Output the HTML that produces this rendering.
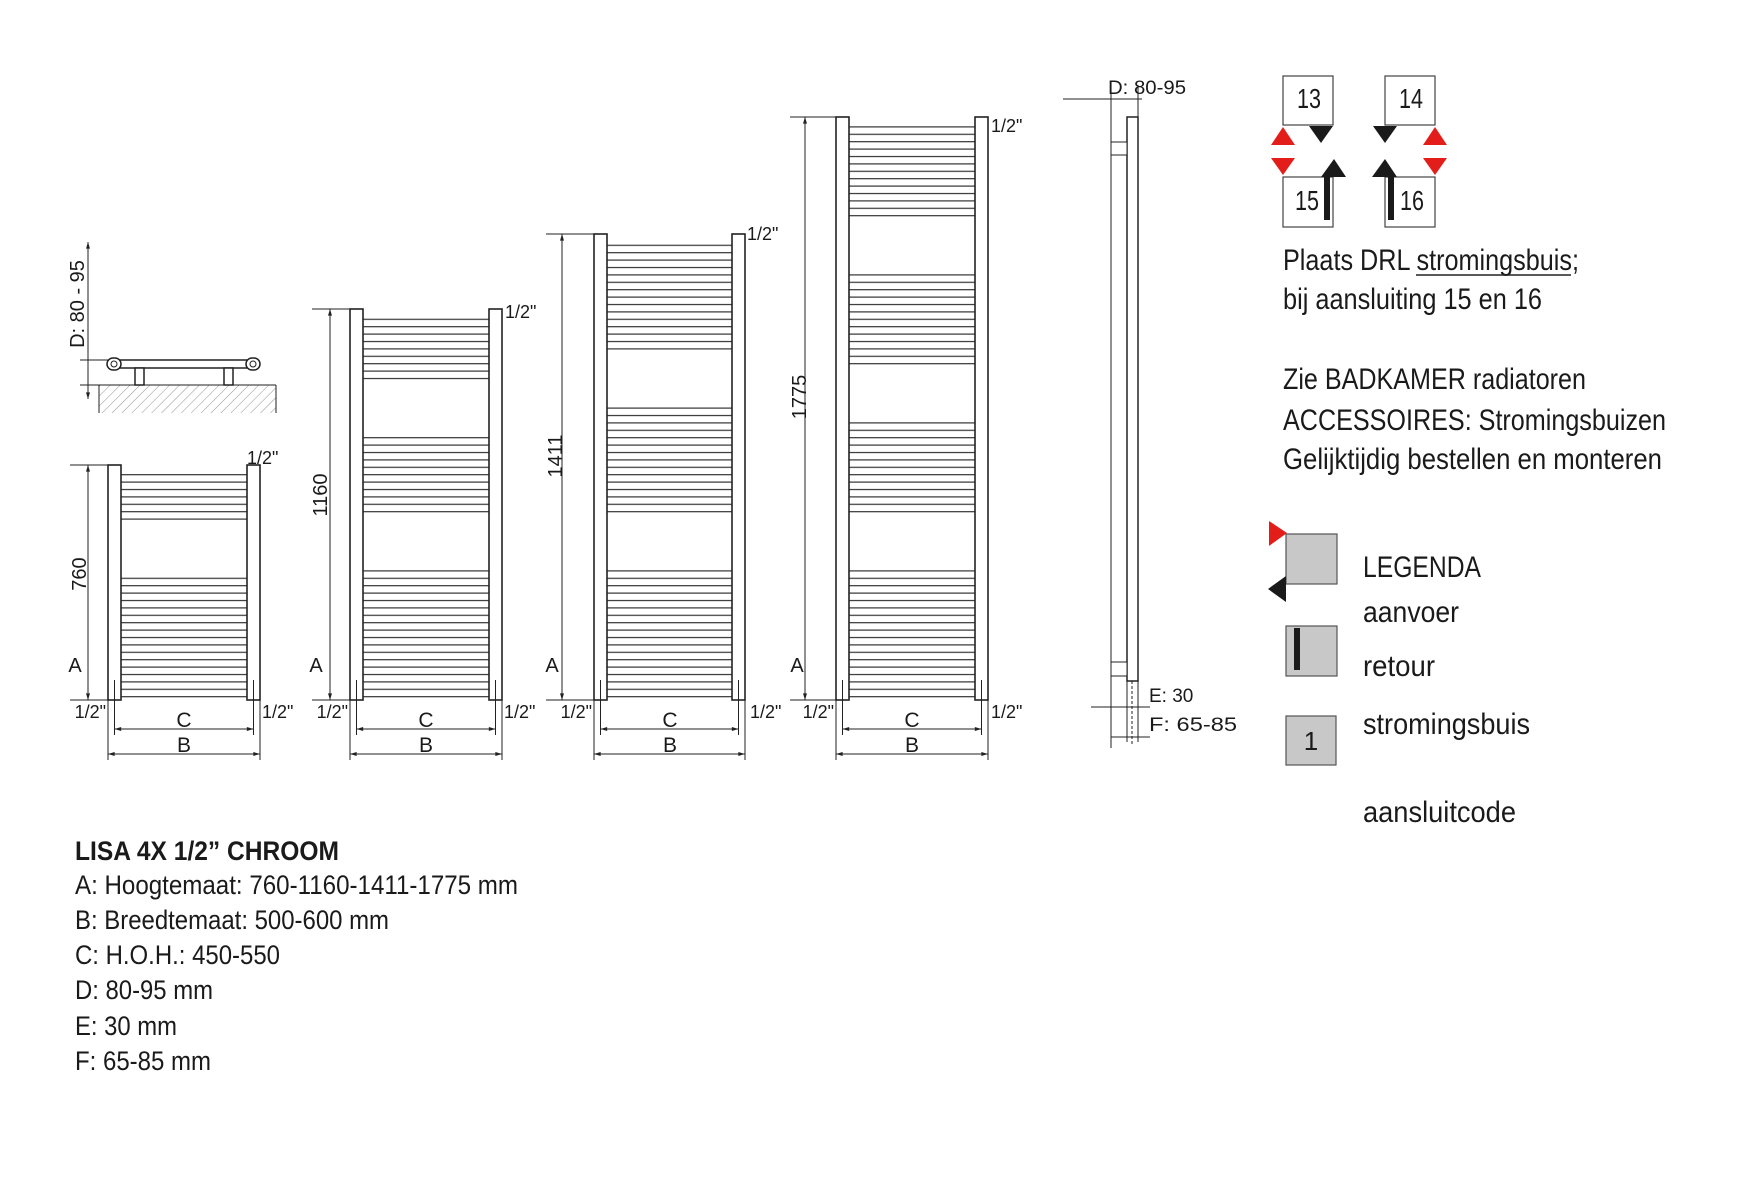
<!DOCTYPE html>
<html><head><meta charset="utf-8"><style>
html,body{margin:0;padding:0;background:#fff;}
svg{display:block;}
text{font-family:"Liberation Sans",Arial,sans-serif;fill:#1a1a1a;}
</style></head><body>
<svg width="1761" height="1191" viewBox="0 0 1761 1191" xmlns="http://www.w3.org/2000/svg">
<defs>
<pattern id="bars" x="0" y="0.5" width="20" height="7.4" patternUnits="userSpaceOnUse">
<rect x="0" y="0" width="20" height="1.2" fill="#333"/>
</pattern>
<pattern id="hatch" width="7" height="7" patternUnits="userSpaceOnUse" patternTransform="rotate(45)">
<line x1="0" y1="0" x2="0" y2="7" stroke="#777" stroke-width="0.8"/>
</pattern>
<marker id="ar" viewBox="0 0 10 6" refX="10" refY="3" markerWidth="8" markerHeight="4" orient="auto-start-reverse" markerUnits="userSpaceOnUse">
<path d="M0,0 L10,3 L0,6 z" fill="#222"/>
</marker>
</defs>

<g stroke="#222" fill="none" stroke-width="1">
<line x1="88" y1="242" x2="88" y2="399" marker-start="url(#ar)" marker-end="url(#ar)"/>
<line x1="80" y1="360" x2="112" y2="360"/>
<line x1="80" y1="385" x2="100" y2="385"/>
<rect x="99" y="385" width="177" height="28" fill="url(#hatch)" stroke="none"/>
<line x1="99" y1="385" x2="276" y2="385"/>
<line x1="99" y1="385" x2="99" y2="413"/>
<line x1="276" y1="385" x2="276" y2="413"/>
<rect x="112" y="360" width="142" height="8" fill="#fff" stroke-width="1.5"/>
<rect x="107" y="358" width="14" height="12" rx="6" fill="#fff" stroke-width="1.5"/>
<circle cx="114" cy="364" r="3"/>
<rect x="246" y="358" width="14" height="12" rx="6" fill="#fff" stroke-width="1.5"/>
<circle cx="253" cy="364" r="3"/>
<rect x="135" y="368" width="9" height="17" fill="#fff" stroke-width="1.5"/>
<rect x="224" y="368" width="9" height="17" fill="#fff" stroke-width="1.5"/>
</g>
<text transform="translate(84,304) rotate(-90)" font-size="20" text-anchor="middle">D: 80 - 95</text>

<!-- Radiator 1 -->
<g stroke="#222" fill="none" stroke-width="1">
<rect x="121" y="469" width="126" height="52" fill="url(#bars)" stroke="none"/>
<rect x="121" y="572" width="126" height="126" fill="url(#bars)" stroke="none"/>
<rect x="108" y="465" width="13" height="235" fill="#fff" stroke-width="1.6"/>
<rect x="247" y="465" width="13" height="235" fill="#fff" stroke-width="1.6"/>
<line x1="88" y1="465" x2="88" y2="700" marker-start="url(#ar)" marker-end="url(#ar)"/>
<line x1="70" y1="465" x2="108" y2="465"/><line x1="70" y1="700" x2="108" y2="700"/>
<line x1="114.5" y1="680" x2="114.5" y2="735"/><line x1="253.5" y1="680" x2="253.5" y2="735"/>
<line x1="114.5" y1="729" x2="253.5" y2="729" marker-start="url(#ar)" marker-end="url(#ar)"/>
<line x1="108" y1="700" x2="108" y2="760"/><line x1="260" y1="700" x2="260" y2="760"/>
<line x1="108" y1="754" x2="260" y2="754" marker-start="url(#ar)" marker-end="url(#ar)"/>
</g>
<text transform="translate(86,574) rotate(-90)" font-size="20" text-anchor="middle">760</text>
<text x="75" y="672" font-size="20" text-anchor="middle">A</text>
<text x="247" y="464" font-size="18">1/2"</text>
<text x="106" y="718" font-size="18" text-anchor="end">1/2"</text>
<text x="262" y="718" font-size="18">1/2"</text>
<text x="184" y="727" font-size="21" text-anchor="middle">C</text>
<text x="184" y="752" font-size="21" text-anchor="middle">B</text>

<!-- Radiator 2 -->
<g stroke="#222" fill="none" stroke-width="1">
<rect x="363" y="315" width="126" height="68" fill="url(#bars)" stroke="none"/>
<rect x="363" y="434" width="126" height="82" fill="url(#bars)" stroke="none"/>
<rect x="363" y="568" width="126" height="130" fill="url(#bars)" stroke="none"/>
<rect x="350" y="309" width="13" height="391" fill="#fff" stroke-width="1.6"/>
<rect x="489" y="309" width="13" height="391" fill="#fff" stroke-width="1.6"/>
<line x1="330" y1="309" x2="330" y2="700" marker-start="url(#ar)" marker-end="url(#ar)"/>
<line x1="312" y1="309" x2="350" y2="309"/><line x1="312" y1="700" x2="350" y2="700"/>
<line x1="356.5" y1="680" x2="356.5" y2="735"/><line x1="495.5" y1="680" x2="495.5" y2="735"/>
<line x1="356.5" y1="729" x2="495.5" y2="729" marker-start="url(#ar)" marker-end="url(#ar)"/>
<line x1="350" y1="700" x2="350" y2="760"/><line x1="502" y1="700" x2="502" y2="760"/>
<line x1="350" y1="754" x2="502" y2="754" marker-start="url(#ar)" marker-end="url(#ar)"/>
</g>
<text transform="translate(327,495) rotate(-90)" font-size="20" text-anchor="middle">1160</text>
<text x="316" y="672" font-size="20" text-anchor="middle">A</text>
<text x="505" y="318" font-size="18">1/2"</text>
<text x="348" y="718" font-size="18" text-anchor="end">1/2"</text>
<text x="504" y="718" font-size="18">1/2"</text>
<text x="426" y="727" font-size="21" text-anchor="middle">C</text>
<text x="426" y="752" font-size="21" text-anchor="middle">B</text>

<!-- Radiator 3 -->
<g stroke="#222" fill="none" stroke-width="1">
<rect x="607" y="242" width="125" height="111" fill="url(#bars)" stroke="none"/>
<rect x="607" y="404" width="125" height="112" fill="url(#bars)" stroke="none"/>
<rect x="607" y="567" width="125" height="131" fill="url(#bars)" stroke="none"/>
<rect x="594" y="234" width="13" height="466" fill="#fff" stroke-width="1.6"/>
<rect x="732" y="234" width="13" height="466" fill="#fff" stroke-width="1.6"/>
<line x1="562" y1="234" x2="562" y2="700" marker-start="url(#ar)" marker-end="url(#ar)"/>
<line x1="546" y1="234" x2="594" y2="234"/><line x1="546" y1="700" x2="594" y2="700"/>
<line x1="600.5" y1="680" x2="600.5" y2="735"/><line x1="738.5" y1="680" x2="738.5" y2="735"/>
<line x1="600.5" y1="729" x2="738.5" y2="729" marker-start="url(#ar)" marker-end="url(#ar)"/>
<line x1="594" y1="700" x2="594" y2="760"/><line x1="745" y1="700" x2="745" y2="760"/>
<line x1="594" y1="754" x2="745" y2="754" marker-start="url(#ar)" marker-end="url(#ar)"/>
</g>
<text transform="translate(562,456) rotate(-90)" font-size="20" text-anchor="middle">1411</text>
<text x="552" y="672" font-size="20" text-anchor="middle">A</text>
<text x="747" y="240" font-size="18">1/2"</text>
<text x="592" y="718" font-size="18" text-anchor="end">1/2"</text>
<text x="750" y="718" font-size="18">1/2"</text>
<text x="670" y="727" font-size="21" text-anchor="middle">C</text>
<text x="670" y="752" font-size="21" text-anchor="middle">B</text>

<!-- Radiator 4 -->
<g stroke="#222" fill="none" stroke-width="1">
<rect x="849" y="123" width="126" height="98" fill="url(#bars)" stroke="none"/>
<rect x="849" y="272" width="126" height="97" fill="url(#bars)" stroke="none"/>
<rect x="849" y="420" width="126" height="97" fill="url(#bars)" stroke="none"/>
<rect x="849" y="568" width="126" height="130" fill="url(#bars)" stroke="none"/>
<rect x="836" y="117" width="13" height="583" fill="#fff" stroke-width="1.6"/>
<rect x="975" y="117" width="13" height="583" fill="#fff" stroke-width="1.6"/>
<line x1="805" y1="117" x2="805" y2="700" marker-start="url(#ar)" marker-end="url(#ar)"/>
<line x1="790" y1="117" x2="836" y2="117"/><line x1="790" y1="700" x2="836" y2="700"/>
<line x1="842.5" y1="680" x2="842.5" y2="735"/><line x1="981.5" y1="680" x2="981.5" y2="735"/>
<line x1="842.5" y1="729" x2="981.5" y2="729" marker-start="url(#ar)" marker-end="url(#ar)"/>
<line x1="836" y1="700" x2="836" y2="760"/><line x1="988" y1="700" x2="988" y2="760"/>
<line x1="836" y1="754" x2="988" y2="754" marker-start="url(#ar)" marker-end="url(#ar)"/>
</g>
<text transform="translate(806,397) rotate(-90)" font-size="20" text-anchor="middle">1775</text>
<text x="797" y="672" font-size="20" text-anchor="middle">A</text>
<text x="991" y="132" font-size="18">1/2"</text>
<text x="834" y="718" font-size="18" text-anchor="end">1/2"</text>
<text x="991" y="718" font-size="18">1/2"</text>
<text x="912" y="727" font-size="21" text-anchor="middle">C</text>
<text x="912" y="752" font-size="21" text-anchor="middle">B</text>

<!-- Side view -->
<g stroke="#222" fill="none" stroke-width="1">
<line x1="1063" y1="99" x2="1142" y2="99"/>
<line x1="1111" y1="92" x2="1111" y2="748"/>
<line x1="1138" y1="85" x2="1138" y2="117"/>
<rect x="1127" y="117" width="11" height="564" fill="#fff" stroke-width="1.5"/>
<rect x="1111" y="142" width="16" height="13" fill="#fff"/>
<rect x="1111" y="662" width="16" height="14" fill="#fff"/>
<line x1="1091" y1="707" x2="1150" y2="707"/>
<line x1="1127" y1="681" x2="1127" y2="742"/>
<line x1="1138" y1="681" x2="1138" y2="742"/>
<line x1="1132" y1="681" x2="1132" y2="745" stroke-dasharray="3,2"/>
<line x1="1111" y1="737" x2="1150" y2="737"/>
</g>
<text x="1108" y="94" font-size="19" textLength="78" lengthAdjust="spacingAndGlyphs">D: 80-95</text>
<text x="1149" y="702" font-size="19">E: 30</text>
<text x="1149" y="731" font-size="19" textLength="88" lengthAdjust="spacingAndGlyphs">F: 65-85</text>

<!-- connection codes -->
<g stroke="#444" stroke-width="1.2" fill="#fff">
<rect x="1283" y="76" width="50" height="49"/>
<rect x="1385" y="76" width="50" height="49"/>
<rect x="1283" y="177" width="50" height="50"/>
<rect x="1385" y="177" width="50" height="50"/>
</g>
<g font-size="28" text-anchor="middle">
<text x="1309" y="108" textLength="24" lengthAdjust="spacingAndGlyphs">13</text>
<text x="1411" y="108" textLength="24" lengthAdjust="spacingAndGlyphs">14</text>
<text x="1307" y="210" textLength="24" lengthAdjust="spacingAndGlyphs">15</text>
<text x="1412" y="210" textLength="24" lengthAdjust="spacingAndGlyphs">16</text>
</g>
<g fill="#e31d1a">
<path d="M1271,145 L1283,127 L1295,145 z"/><path d="M1271,158 L1295,158 L1283,175 z"/>
<path d="M1423,145 L1435,127 L1447,145 z"/><path d="M1423,158 L1447,158 L1435,175 z"/>
</g>
<g fill="#1a1a1a">
<path d="M1309,126 L1333,126 L1321,143 z"/>
<path d="M1373,126 L1397,126 L1385,143 z"/>
<path d="M1321,177 L1334,159 L1346,177 z"/><rect x="1324" y="175" width="6" height="45"/>
<path d="M1372,177 L1385,159 L1397,177 z"/><rect x="1388" y="175" width="6" height="45"/>
</g>

<g font-size="30">
<text x="1283" y="270" textLength="296" lengthAdjust="spacingAndGlyphs">Plaats DRL stromingsbuis;</text>
<text x="1283" y="309" textLength="259" lengthAdjust="spacingAndGlyphs">bij aansluiting 15 en 16</text>
<text x="1283" y="389" textLength="303" lengthAdjust="spacingAndGlyphs">Zie BADKAMER radiatoren</text>
<text x="1283" y="430" textLength="383" lengthAdjust="spacingAndGlyphs">ACCESSOIRES: Stromingsbuizen</text>
<text x="1283" y="469" textLength="379" lengthAdjust="spacingAndGlyphs">Gelijktijdig  bestellen en monteren</text>
</g>
<line x1="1416" y1="275" x2="1571" y2="275" stroke="#222" stroke-width="1.5"/>

<!-- legend -->
<rect x="1286" y="534" width="51" height="50" fill="#c8c8c8" stroke="#555" stroke-width="1.2"/>
<path d="M1269,521 L1287,533 L1269,546 z" fill="#e31d1a"/>
<path d="M1286,576 L1268,589 L1286,602 z" fill="#1a1a1a"/>
<rect x="1286" y="626" width="51" height="50" fill="#c8c8c8" stroke="#555" stroke-width="1.2"/>
<rect x="1294" y="628" width="6" height="42" fill="#1a1a1a"/>
<rect x="1286" y="716" width="50" height="49" fill="#c8c8c8" stroke="#555" stroke-width="1.2"/>
<text x="1311" y="750" font-size="26" text-anchor="middle">1</text>
<g font-size="30">
<text x="1363" y="577" textLength="118" lengthAdjust="spacingAndGlyphs">LEGENDA</text>
<text x="1363" y="622" textLength="96" lengthAdjust="spacingAndGlyphs">aanvoer</text>
<text x="1363" y="676" textLength="72" lengthAdjust="spacingAndGlyphs">retour</text>
<text x="1363" y="734" textLength="167" lengthAdjust="spacingAndGlyphs">stromingsbuis</text>
<text x="1363" y="822" textLength="153" lengthAdjust="spacingAndGlyphs">aansluitcode</text>
</g>

<!-- spec text -->
<text x="75" y="860" font-size="27" font-weight="bold" textLength="264" lengthAdjust="spacingAndGlyphs">LISA  4X 1/2” CHROOM</text>
<g font-size="27">
<text x="75" y="894" textLength="443" lengthAdjust="spacingAndGlyphs">A: Hoogtemaat: 760-1160-1411-1775 mm</text>
<text x="75" y="929" textLength="314" lengthAdjust="spacingAndGlyphs">B: Breedtemaat: 500-600 mm</text>
<text x="75" y="964" textLength="205" lengthAdjust="spacingAndGlyphs">C: H.O.H.: 450-550</text>
<text x="75" y="999" textLength="138" lengthAdjust="spacingAndGlyphs">D: 80-95 mm</text>
<text x="75" y="1035" textLength="102" lengthAdjust="spacingAndGlyphs">E: 30 mm</text>
<text x="75" y="1070" textLength="136" lengthAdjust="spacingAndGlyphs">F: 65-85 mm</text>
</g>
</svg>
</body></html>
